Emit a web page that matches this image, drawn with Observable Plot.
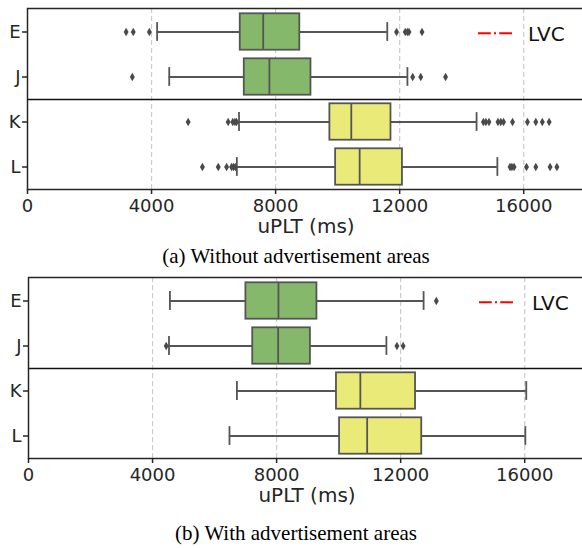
<!DOCTYPE html>
<html><head><meta charset="utf-8">
<script src="https://cdn.jsdelivr.net/npm/d3@7"></script>
<script src="https://cdn.jsdelivr.net/npm/@observablehq/plot@0.6"></script>
<style>
html,body{margin:0;padding:0;background:#fff;overflow:hidden;}
#wrap{position:relative;width:582px;height:548px;overflow:hidden;background:#fff;}
.panel{position:absolute;left:0;width:590px;}
.panel svg{overflow:visible;max-width:none !important;}
.caption{position:absolute;left:0;width:592px;text-align:center;font-family:"Liberation Serif","Times New Roman",serif;font-size:21px;line-height:21px;color:#000;white-space:nowrap;}
</style></head><body>
<div id="wrap">
  <div class="panel" id="pa" style="top:0px"></div>
  <div class="caption" style="top:246px">(a) Without advertisement areas</div>
  <div class="panel" id="pb" style="top:268px"></div>
  <div class="caption" style="top:523px">(b) With advertisement areas</div>
</div>
<script>
// ---- data ----
const categories = ["E", "J", "K", "L"];
const groupIndex = [0, 0, 1, 1];           // E,J = first group ; K,L = second group
const xTicks = [0, 4000, 8000, 12000, 16000];
const gridTicks = [4000, 8000, 12000, 16000];
const xLabel = "uPLT (ms)";
const legendLabel = "LVC";

// (a) Without advertisement areas
const loA  = [4180, 4570, 6820, 6750];
const q1A  = [6860, 6990, 9750, 9935];
const medA = [7600, 7800, 10440, 10710];
const q3A  = [8780, 9140, 11720, 12090];
const hiA  = [11600, 12250, 14480, 15150];
const outA_E = [3180, 3410, 3930, 11900, 12180, 12250, 12300, 12720];
const outA_J = [3380, 12420, 12680, 13480];
const outA_K = [5180, 6470, 6620, 6690, 6740, 14700, 14780, 14880, 15170, 15260, 15350, 15640, 16120, 16390, 16600, 16820];
const outA_L = [5640, 6150, 6420, 6580, 6640, 6700, 15560, 15620, 15690, 16090, 16390, 16850, 17070];
const lvcA = [6000, 9000];

// (b) With advertisement areas
const loB  = [4560, 4530, 6720, 6480];
const q1B  = [7010, 7230, 9930, 10030];
const medB = [8060, 8050, 10700, 10920];
const q3B  = [9300, 9090, 12480, 12680];
const hiB  = [12740, 11540, 16050, 16020];
const outB_E = [13150];
const outB_J = [4440, 11880, 12080];
const outB_K = [];
const outB_L = [];
const lvcB = [8000, 12000];

// ---- style ----
const groupFill = ["#86b86c", "#eaea78"];
const edge = "#555555";
const ink = "#262626";

function panel({lo, q1, med, q3, hi, outs, lvc, marginTop, marginLeft, width, height, marginBottom, legend}) {
  const rows = categories.map((c, i) => ({cat: c, lo: lo[i], q1: q1[i], med: med[i], q3: q3[i], hi: hi[i], fill: groupFill[groupIndex[i]]}));
  const outRows = categories.flatMap((c, i) => outs[i].map(v => ({cat: c, v})));
  const lvcRows = categories.map((c, i) => ({cat: c, v: lvc[groupIndex[i]]}));
  const bw = (height - marginTop - marginBottom) / categories.length;
  const boxInset = bw * 0.095;
  const capInset = bw * 0.29;
  const lw = 1.8;
  const svg = Plot.plot({
    width, height, marginTop, marginLeft, marginRight: 0, marginBottom,
    style: {fontFamily: "'DejaVu Sans', sans-serif", fontSize: "18px", color: ink, background: "white", overflow: "visible"},
    x: {domain: [0, 17960]},
    y: {domain: categories, padding: 0},
    color: {type: "identity"},
    marks: [
      Plot.ruleX(gridTicks, {stroke: "#cccccc", strokeWidth: 1.2, strokeDasharray: "5,3"}),
      Plot.ruleY(rows, {x1: "lo", x2: "q1", y: "cat", stroke: edge, strokeWidth: lw}),
      Plot.ruleY(rows, {x1: "q3", x2: "hi", y: "cat", stroke: edge, strokeWidth: lw}),
      Plot.tickX(rows, {x: "lo", y: "cat", insetTop: capInset, insetBottom: capInset, stroke: edge, strokeWidth: lw}),
      Plot.tickX(rows, {x: "hi", y: "cat", insetTop: capInset, insetBottom: capInset, stroke: edge, strokeWidth: lw}),
      Plot.barX(rows, {x1: "q1", x2: "q3", y: "cat", fill: "fill", insetTop: boxInset, insetBottom: boxInset, stroke: edge, strokeWidth: lw}),
      Plot.tickX(rows, {x: "med", y: "cat", insetTop: boxInset, insetBottom: boxInset, stroke: edge, strokeWidth: lw}),
      Plot.dot(outRows, {x: "v", y: "cat", symbol: "diamond", r: 2.6, fill: "#4a4a4a", stroke: "none"}),
      Plot.ruleX(lvcRows, {x: "v", y: "cat", stroke: "red", strokeWidth: 2, strokeDasharray: "12.8,3.2,2,3.2"}),
      Plot.ruleY([categories[2]], {y: d => d, dy: -bw / 2, stroke: "#111", strokeWidth: 1.5}),
      Plot.frame({stroke: ink, strokeWidth: 1.5}),
      Plot.axisX({ticks: xTicks, tickFormat: "d", tickSize: 5, tickPadding: 5, fontSize: 18, label: null, strokeWidth: 1.5}),
      Plot.axisY({tickSize: 5, tickPadding: 2, fontSize: 18, label: null, strokeWidth: 1.5}),
      Plot.text([xLabel], {frameAnchor: "bottom", lineAnchor: "middle", dy: 37.5, fontSize: 20, fill: ink})
    ]
  });
  // legend
  const g = d3.select(svg).append("g").attr("text-anchor", "start");
  g.append("line").attr("x1", legend.x1).attr("x2", legend.x2).attr("y1", legend.y).attr("y2", legend.y)
    .attr("stroke", "red").attr("stroke-width", 2).attr("stroke-dasharray", "12.8,3.2,2,3.2");
  g.append("text").attr("x", legend.tx).attr("y", legend.y + 0.6).attr("dy", "0.35em")
    .attr("text-anchor", "start").attr("font-size", 20).attr("fill", "#111").text(legendLabel);
  return svg;
}

document.getElementById("pa").appendChild(panel({
  lo: loA, q1: q1A, med: medA, q3: q3A, hi: hiA,
  outs: [outA_E, outA_J, outA_K, outA_L], lvc: lvcA,
  marginTop: 8, marginLeft: 27, width: 584, height: 246, marginBottom: 57,
  legend: {x1: 478, x2: 513, y: 33.3, tx: 528}
}));
document.getElementById("pb").appendChild(panel({
  lo: loB, q1: q1B, med: medB, q3: q3B, hi: hiB,
  outs: [outB_E, outB_J, outB_K, outB_L], lvc: lvcB,
  marginTop: 9, marginLeft: 28, width: 585, height: 246, marginBottom: 56,
  legend: {x1: 479, x2: 515, y: 34.3, tx: 532}
}));
</script>
</body></html>
